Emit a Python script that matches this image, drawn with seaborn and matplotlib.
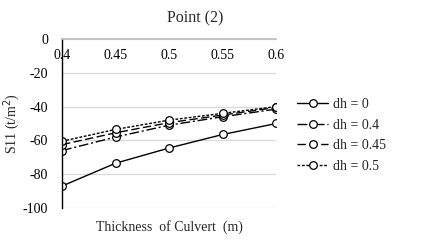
import matplotlib
matplotlib.use('Agg')
import matplotlib.pyplot as plt
import seaborn as sns
import pandas as pd

thickness = [0.4, 0.45, 0.5, 0.55, 0.6]
dh_0 = [-87, -73.5, -64.5, -56.5, -50]
dh_04 = [-66, -58, -51, -46, -41.5]
dh_045 = [-62.5, -55.5, -49.5, -45, -40.5]
dh_05 = [-60.5, -53.5, -48, -44, -40]
series_labels = ['dh = 0', 'dh = 0.4', 'dh = 0.45', 'dh = 0.5']
x_ticks = [0.4, 0.45, 0.5, 0.55, 0.6]
x_tick_labels = ['0.4', '0.45', '0.5', '0.55', '0.6']
y_ticks = [0, -20, -40, -60, -80, -100]

sns.set_theme(style='white')
plt.rcParams['font.family'] = ['Liberation Serif', 'DejaVu Serif']

rows = []
for lab, vals in zip(series_labels, [dh_0, dh_04, dh_045, dh_05]):
    for x, y in zip(thickness, vals):
        rows.append((lab, x, y))
df = pd.DataFrame(rows, columns=['series', 'x', 'y'])

styles = {
    'dh = 0': '-',
    'dh = 0.4': (0, (7, 2, 1.5, 2)),
    'dh = 0.45': (0, (6, 2.5)),
    'dh = 0.5': (0, (2, 1.2)),
}

fig = plt.figure(figsize=(4.25, 2.5), dpi=100)
ax = fig.add_axes([0.146, 0.168, 0.504, 0.676])

for lab in series_labels:
    sub = df[df['series'] == lab]
    sns.lineplot(data=sub, x='x', y='y', ax=ax, color='black', lw=1.0,
                 linestyle=styles[lab], marker='o', markersize=5.5,
                 markerfacecolor='white', markeredgecolor='black',
                 markeredgewidth=0.9, label=lab)

ax.set_xlim(0.4, 0.6)
ax.set_ylim(-100, 0)
ax.set_xticks(x_ticks)
ax.set_xticklabels(x_tick_labels)
ax.set_yticks(y_ticks)
ax.set_yticklabels([str(v) for v in y_ticks])
ax.grid(axis='y', color='#d9d9d9', lw=0.9)
ax.grid(axis='x', visible=False)
ax.set_axisbelow(True)

ax.spines['bottom'].set_position(('data', 0))
ax.spines['bottom'].set_color('#bfbfbf')
ax.spines['left'].set_color('black')
ax.spines['left'].set_linewidth(1.0)
ax.spines['top'].set_visible(False)
ax.spines['right'].set_visible(False)
ax.tick_params(axis='both', length=0, labelsize=10, colors='black')
ax.tick_params(axis='x', pad=7)
ax.tick_params(axis='y', pad=10)

ax.set_xlabel('Thickness  of Culvert  (m)', fontsize=10)
ax.xaxis.set_label_coords(0.5, -0.07)
ax.set_ylabel('S11 (t/m$^2$)', fontsize=10)
ax.yaxis.set_label_coords(-0.185, 0.5)

fig.text(0.459, 0.925, 'Point (2)', ha='center', va='center', fontsize=11.5)

ax.legend(loc='center left', bbox_to_anchor=(1.04, 0.43), frameon=False,
          fontsize=10, handlelength=2.2, handletextpad=0.4, labelspacing=0.55)

fig.savefig('out.png', dpi=100)
